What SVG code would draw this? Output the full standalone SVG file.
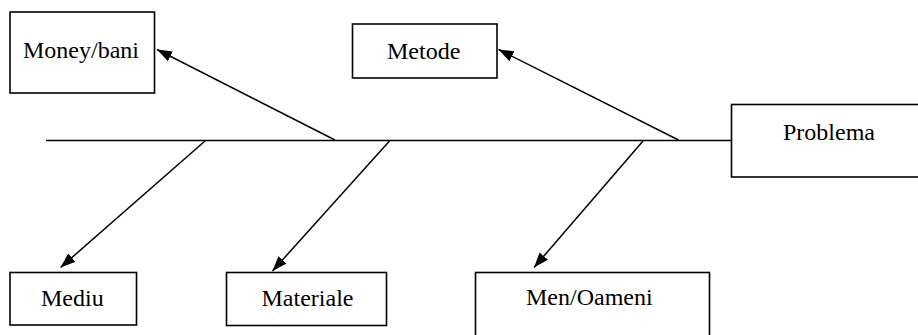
<svg xmlns="http://www.w3.org/2000/svg" width="918" height="335" viewBox="0 0 918 335">
<defs>
<style>
.box{fill:#fff;stroke:#000;stroke-width:1.6}
.lbl{font-family:"Liberation Serif","Times New Roman",serif;font-size:24px;fill:#000}
.ln{stroke:#000;stroke-width:1.5;fill:none}
.arr{stroke:#000;stroke-width:1.5;fill:none;marker-end:url(#ah)}
</style>
<marker id="ah" markerUnits="userSpaceOnUse" markerWidth="16" markerHeight="12" refX="15" refY="5.5" orient="auto">
<path d="M0,0 L15,5.5 L0,11 z" fill="#000"/>
</marker>
</defs>
<rect width="918" height="335" fill="#fff"/>
<g id="connectors">
<line class="ln" x1="46" y1="140.5" x2="732" y2="140.5"/>
<line class="arr" x1="335" y1="140" x2="157" y2="49.5"/>
<line class="arr" x1="678.5" y1="140" x2="498.5" y2="49.5"/>
<line class="arr" x1="205" y1="141" x2="60.5" y2="267.5"/>
<line class="arr" x1="389.5" y1="141" x2="272.5" y2="271"/>
<line class="arr" x1="643" y1="141" x2="534" y2="267.5"/>
</g>
<g id="money">
<rect class="box" x="10" y="12" width="144.5" height="81"/>
<text class="lbl" x="23" y="58">Money/bani</text>
</g>
<g id="metode">
<rect class="box" x="352.5" y="24" width="144.5" height="54"/>
<text class="lbl" x="387" y="58.5">Metode</text>
</g>
<g id="problema">
<rect class="box" x="731.5" y="104.5" width="200" height="72.5"/>
<text class="lbl" x="783" y="139.5">Problema</text>
</g>
<g id="mediu">
<rect class="box" x="10" y="272.5" width="126.5" height="52.5"/>
<text class="lbl" x="41" y="305.5">Mediu</text>
</g>
<g id="materiale">
<rect class="box" x="226.5" y="272.5" width="160" height="53"/>
<text class="lbl" x="261.5" y="305.5">Materiale</text>
</g>
<g id="men">
<rect class="box" x="475.5" y="272.5" width="234" height="80"/>
<text class="lbl" x="526" y="305">Men/Oameni</text>
</g>
</svg>
